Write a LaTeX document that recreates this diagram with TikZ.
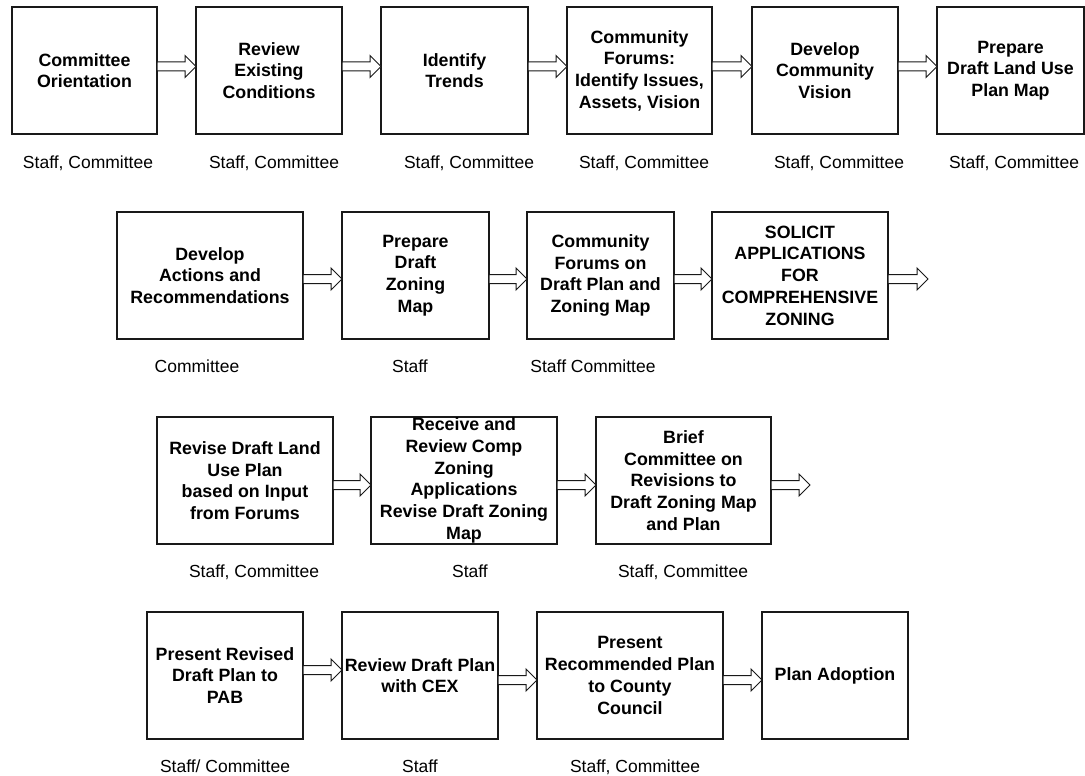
\documentclass[tikz,border=0pt]{standalone}
\usepackage{fontspec}
\setmainfont{Liberation Sans}
\usetikzlibrary{calc}
\tikzset{
  box/.style={draw=black!90, line width=1.3pt, rectangle, inner sep=0pt, outer sep=0pt},
  boxtext/.style={align=center, font=\fontsize{17.8}{21.7}\selectfont\bfseries, inner sep=0pt},
  role/.style={anchor=base, font=\fontsize{17.5}{20}\selectfont, inner sep=0pt},
  blockarr/.style={draw=black!90, line width=1pt, fill=white, line join=miter}
}
\newcommand{\mybox}[6]{%
  \node[box, minimum width={#4-#2}, minimum height={#5-#3}] (#1) at ({(#2+#4)/2},{(#3+#5)/2}) {};
  \node[boxtext] (#1t) at (#1.center) {#6};}
\newcommand{\myarr}[3]{%
  \draw[blockarr] let \p1=($(#1)+(0,#3)$), \p2=($(#2)+(0,#3)$) in
    (\x1,\y1+4.5pt) -- (\x2-11pt,\y1+4.5pt) -- (\x2-11pt,\y1+11pt) -- (\x2,\y1)
    -- (\x2-11pt,\y1-11pt) -- (\x2-11pt,\y1-4.5pt) -- (\x1,\y1-4.5pt) -- cycle;}
\begin{document}
\begin{tikzpicture}[x=1pt,y=-1pt]
\useasboundingbox[fill=white] (0,0) rectangle (1085,776);
% row 1
\mybox{b1}{12}{7}{157}{134}{Committee\\Orientation}
\mybox{b2}{196}{7}{342}{134}{Review\\Existing\\Conditions}
\mybox{b3}{381}{7}{528}{134}{Identify\\Trends}
\mybox{b4}{567}{7}{712}{134}{Community\\Forums:\\Identify Issues,\\Assets, Vision}
\mybox{b5}{752}{7}{898}{134}{Develop\\Community\\Vision}
\mybox{b6}{937}{7}{1084}{134}{Prepare\\Draft Land Use\\Plan Map}
% row 2
\mybox{b7}{117}{212}{303}{339}{Develop\\Actions and\\Recommendations}
\mybox{b8}{342}{212}{489}{339}{Prepare\\Draft\\Zoning\\Map}
\mybox{b9}{527}{212}{674}{339}{Community\\Forums on\\Draft Plan and\\Zoning Map}
\mybox{b10}{712}{212}{888}{339}{SOLICIT\\APPLICATIONS\\FOR\\COMPREHENSIVE\\ZONING}
% row 3
\mybox{b11}{157}{417}{333}{544}{Revise Draft Land\\Use Plan\\based on Input\\from Forums}
\mybox{b12}{371}{417}{557}{544}{Receive and\\Review Comp\\Zoning\\Applications\\Revise Draft Zoning\\Map}
\mybox{b13}{596}{417}{771}{544}{Brief\\Committee on\\Revisions to\\Draft Zoning Map\\and Plan}
% row 4
\mybox{b14}{147}{612}{303}{739}{Present Revised\\Draft Plan to\\PAB}
\mybox{b15}{342}{612}{498}{739}{Review Draft Plan\\with CEX}
\mybox{b16}{537}{612}{723}{739}{Present\\Recommended Plan\\to County\\Council}
\mybox{b17}{762}{612}{908}{739}{Plan Adoption}
% free ends
\coordinate (e1) at (928,275.5);
\coordinate (e2) at (810,480.5);
% arrows
\myarr{b1.east}{b2.west}{-4}
\myarr{b2.east}{b3.west}{-4}
\myarr{b3.east}{b4.west}{-4}
\myarr{b4.east}{b5.west}{-4}
\myarr{b5.east}{b6.west}{-4}
\myarr{b7.east}{b8.west}{3.5}
\myarr{b8.east}{b9.west}{3.5}
\myarr{b9.east}{b10.west}{3.5}
\myarr{b10.east}{e1}{3.5}
\myarr{b11.east}{b12.west}{4.5}
\myarr{b12.east}{b13.west}{4.5}
\myarr{b13.east}{e2}{4.5}
\myarr{b14.east}{b15.west}{-5.5}
\myarr{b15.east}{b16.west}{4.5}
\myarr{b16.east}{b17.west}{4.5}
% role labels
\node[role] (l1) at (88,168) {Staff, Committee};
\node[role] (l2) at (274,168) {Staff, Committee};
\node[role] (l3) at (469,168) {Staff, Committee};
\node[role] (l4) at (644,168) {Staff, Committee};
\node[role] (l5) at (839,168) {Staff, Committee};
\node[role] (l6) at (1014,168) {Staff, Committee};
\node[role] (l7) at (197,372.5) {Committee};
\node[role] (l8) at (410,372.5) {Staff};
\node[role] (l9) at (593,372.5) {Staff Committee};
\node[role] (l10) at (254,577) {Staff, Committee};
\node[role] (l11) at (470,577) {Staff};
\node[role] (l12) at (683,577) {Staff, Committee};
\node[role] (l13) at (225,772) {Staff/ Committee};
\node[role] (l14) at (420,772) {Staff};
\node[role] (l15) at (635,772) {Staff, Committee};
\end{tikzpicture}
\end{document}
